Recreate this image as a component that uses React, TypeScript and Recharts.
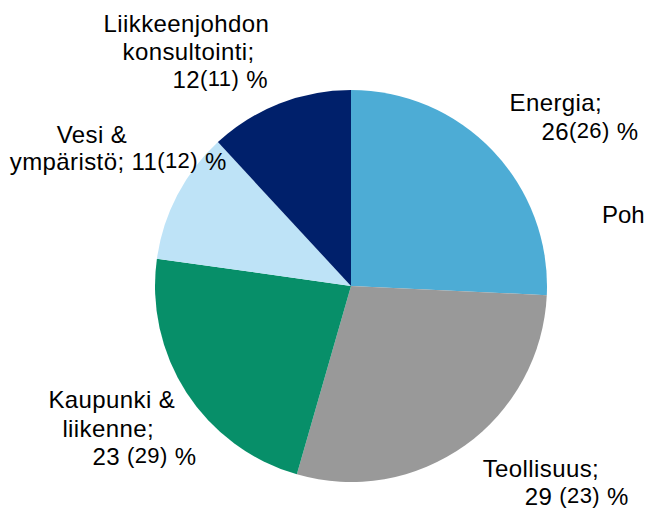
import React from "react";
import { PieChart, Pie, Cell } from "recharts";

const sectors = ["Energia", "Teollisuus", "Kaupunki & liikenne", "Vesi & ympäristö", "Liikkeenjohdon konsultointi"];
const shares = [26, 29, 23, 11, 12];
const previousShares = [26, 23, 29, 12, 11];
const labelNameLines = [
  ["Energia;"],
  ["Teollisuus;"],
  ["Kaupunki &", "liikenne;"],
  ["Vesi &", "ympäristö;"],
  ["Liikkeenjohdon", "konsultointi;"],
];
const valueGaps = ["", " ", " ", "", ""];
const sideText = "Poh";

const COLORS = ["#4DACD5", "#999999", "#078F69", "#BEE3F7", "#00206B"];

// label layout: offsets of each text line relative to a point just outside the slice
const LABEL_GAP = 30;
const LABEL_LAYOUT: { inline: boolean; offsets: number[][] }[] = [
  { inline: false, offsets: [[-5, -19], [27, 10]] },
  { inline: false, offsets: [[0, 7], [42, 35]] },
  { inline: false, offsets: [[-113, -1], [-99, 28], [-69, 56]] },
  { inline: true, offsets: [[-94, -38], [-141, -11]] },
  { inline: false, offsets: [[-165, -44], [-146, -16], [-96, 12]] },
];

const data = sectors.map((name, i) => ({ name, value: shares[i], prev: previousShares[i] }));

const RAD = Math.PI / 180;
const FONT = "'Liberation Sans', Arial, sans-serif";
const SPACING = 0.4;

const ValueSpans = ({ i }: { i: number }) => (
  <>
    <tspan>{String(shares[i]) + valueGaps[i]}</tspan>
    <tspan fontSize={22} dy={-2}>{"(" + previousShares[i] + ")"}</tspan>
    <tspan dy={2}>{" %"}</tspan>
  </>
);

const renderLabel = (props: any) => {
  const { cx, cy, midAngle, outerRadius, index } = props;
  const r = outerRadius + LABEL_GAP;
  const ax = cx + r * Math.cos(-midAngle * RAD);
  const ay = cy + r * Math.sin(-midAngle * RAD);
  const layout = LABEL_LAYOUT[index];
  const names = labelNameLines[index];
  const els: React.ReactNode[] = [];
  names.forEach((ln, k) => {
    const [dx, dy] = layout.offsets[k];
    const isLast = k === names.length - 1;
    els.push(
      <text key={"n" + k} x={ax + dx} y={ay + dy} fill="#000" fontSize={24} fontFamily={FONT} letterSpacing={SPACING} textAnchor="start">
        <tspan>{ln}</tspan>
        {layout.inline && isLast ? (
          <>
            <tspan>{" "}</tspan>
            <ValueSpans i={index} />
          </>
        ) : null}
      </text>
    );
  });
  if (!layout.inline) {
    const [dx, dy] = layout.offsets[names.length];
    els.push(
      <text key="v" x={ax + dx} y={ay + dy} fill="#000" fontSize={24} fontFamily={FONT} letterSpacing={SPACING} textAnchor="start">
        <ValueSpans i={index} />
      </text>
    );
  }
  return <g>{els}</g>;
};

export default function App() {
  return (
    <div style={{ position: "fixed", left: 0, top: 0, width: 646, height: 514, background: "#fff" }}>
      <PieChart width={646} height={514} margin={{ top: 0, right: 0, bottom: 0, left: 0 }}>
        <Pie
          data={data}
          dataKey="value"
          nameKey="name"
          cx={351}
          cy={286}
          outerRadius={196}
          startAngle={90}
          endAngle={-270}
          stroke="none"
          label={renderLabel}
          labelLine={false}
          isAnimationActive={false}
        >
          {data.map((d, i) => (
            <Cell key={d.name} fill={COLORS[i]} />
          ))}
        </Pie>
        <text x={602} y={223} fontSize={24} fontFamily={FONT} fill="#000">
          {sideText}
        </text>
      </PieChart>
    </div>
  );
}
